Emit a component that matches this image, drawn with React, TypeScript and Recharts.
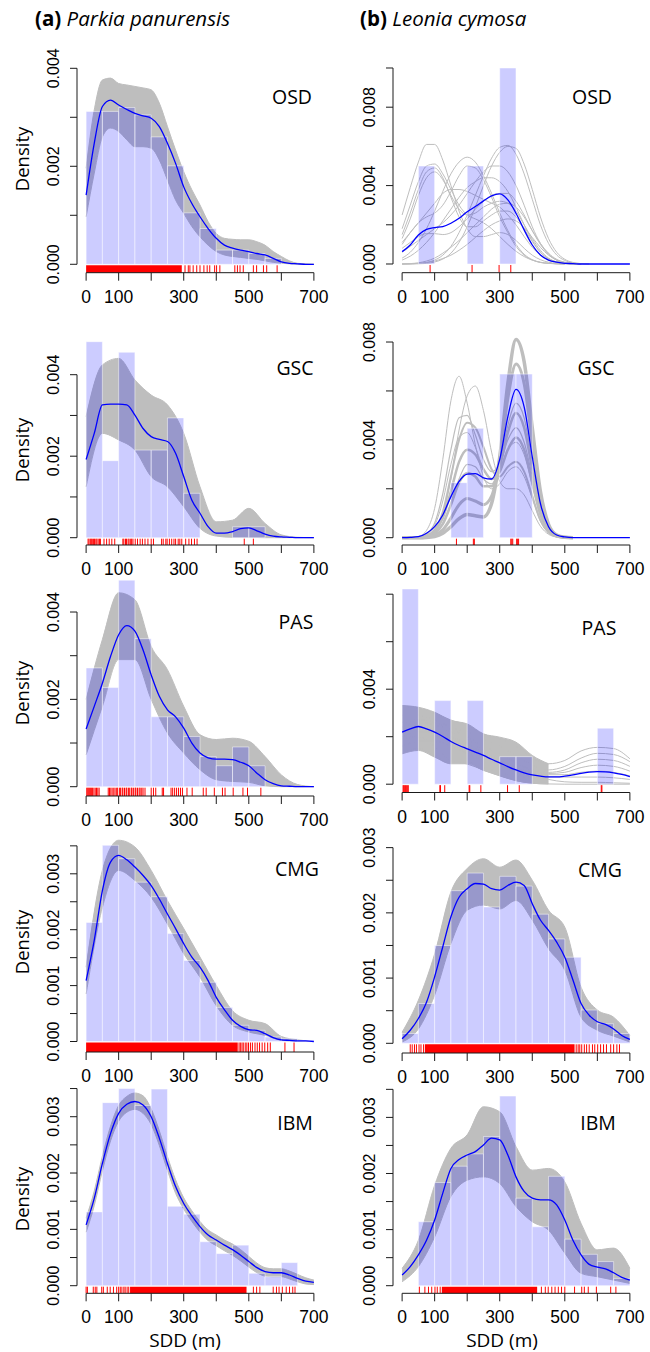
import React from 'react';
import { ComposedChart, Area, Line, Scatter, XAxis, YAxis, ReferenceArea, ReferenceLine } from 'recharts';

// Density values are stored in units of 1e-3 (tick labels divide by 1000).
const X25 = [0, 25, 50, 75, 100, 125, 150, 175, 200, 225, 250, 275, 300, 325, 350, 375, 400, 425, 450, 475, 500, 525, 550, 575, 600, 625, 650, 675, 700];
const X50 = [0, 50, 100, 150, 200, 250, 300, 350, 400, 450, 500, 550, 600, 650, 700];
const BIN_STARTS = [0, 50, 100, 150, 200, 250, 300, 350, 400, 450, 500, 550, 600, 650];
const X_TICKS = [0, 100, 200, 300, 400, 500, 600, 700];
const X_LABELS = [0, 100, 300, 500, 700];

// ---- (a) Parkia panurensis ----
const parkiaOsdHist = [3.12, 3.12, 3.2, 3.05, 2.6, 2.01, 1.05, 0.73, 0.29, 0.29, 0.22, 0.12];
const parkiaOsdMean = [1.41, 2.47, 3.22, 3.35, 3.25, 3.16, 3.08, 3.03, 2.98, 2.81, 2.47, 2.06, 1.58, 1.24, 0.97, 0.73, 0.53, 0.39, 0.33, 0.29, 0.26, 0.22, 0.19, 0.12, 0.05, 0.02, 0.01, 0, 0];
const parkiaOsdHigh = [1.96, 3.15, 3.76, 3.8, 3.69, 3.66, 3.63, 3.6, 3.56, 3.29, 2.81, 2.33, 1.89, 1.52, 1.21, 0.87, 0.63, 0.53, 0.51, 0.5, 0.5, 0.46, 0.39, 0.26, 0.16, 0.07, 0.02, 0.01, 0];
const parkiaOsdLow = [0.97, 1.86, 2.6, 2.78, 2.71, 2.54, 2.4, 2.4, 2.37, 2.13, 1.72, 1.31, 1.04, 0.77, 0.56, 0.39, 0.26, 0.19, 0.16, 0.14, 0.12, 0.1, 0.07, 0.04, 0.02, 0.01, 0, 0, 0];
const parkiaOsdRug = [304, 314, 319, 329, 340, 350, 362, 372, 380, 395, 401, 411, 457, 465, 473, 483, 514, 524, 545, 555, 587];
const parkiaOsdRugBands = [[0, 294]];

const parkiaGscHist = [4.81, 1.89, 4.55, 2.15, 2.15, 2.94, 1.09, 0, 0, 0.27, 0.27];
const parkiaGscMean = [1.92, 2.56, 3.26, 3.28, 3.28, 3.26, 3.01, 2.68, 2.48, 2.41, 2.36, 2.07, 1.5, 0.92, 0.6, 0.27, 0.11, 0.11, 0.15, 0.22, 0.24, 0.17, 0.09, 0.04, 0.02, 0.01, 0, 0, 0];
const parkiaGscHigh = [2.97, 4.24, 4.4, 3.87, 3.5, 3.26, 2.56, 1.25, 0.39, 0.43, 0.72, 0.35, 0.07, 0.01, 0];
const parkiaGscLow = [1.25, 2.56, 2.4, 2.15, 1.5, 1.25, 0.76, 0.23, 0.04, 0.01, 0.01, 0, 0, 0, 0];
const parkiaGscRug = [6, 9, 13, 16, 19, 23, 26, 30, 33, 37, 41, 44, 55, 63, 71, 79, 88, 113, 116, 121, 124, 129, 132, 137, 140, 144, 151, 158, 166, 173, 181, 190, 200, 207, 232, 237, 245, 249, 256, 263, 270, 275, 283, 288, 294, 306, 316, 324, 333, 341, 486, 514];

const parkiaPasHist = [2.72, 2.27, 4.73, 3.39, 1.6, 1.6, 1.15, 0.69, 0.48, 0.91, 0.48];
const parkiaPasMean = [1.32, 1.84, 2.37, 2.98, 3.48, 3.69, 3.56, 3.13, 2.56, 2.07, 1.76, 1.6, 1.34, 1.0, 0.77, 0.66, 0.63, 0.63, 0.62, 0.56, 0.48, 0.31, 0.16, 0.07, 0.02, 0.01, 0, 0, 0];
const parkiaPasHigh = [2.0, 3.37, 4.44, 4.28, 3.21, 2.68, 1.84, 1.19, 1.08, 1.11, 1.04, 0.69, 0.27, 0.05, 0];
const parkiaPasLow = [0.73, 1.84, 2.91, 2.91, 2.0, 1.23, 0.77, 0.39, 0.16, 0.12, 0.1, 0.02, 0, 0, 0];
const parkiaPasRug = [2, 5, 8, 11, 14, 17, 20, 24, 28, 32, 36, 40, 68, 72, 76, 80, 85, 89, 94, 97, 103, 106, 111, 113, 118, 123, 125, 130, 134, 139, 141, 146, 151, 153, 158, 163, 166, 171, 175, 181, 200, 207, 214, 234, 238, 261, 266, 272, 278, 284, 290, 296, 310, 326, 360, 369, 394, 419, 427, 452, 482, 496, 537];

const parkiaCmgHist = [2.13, 3.51, 3.27, 2.85, 2.59, 1.93, 1.45, 1.06, 0.61, 0.29, 0.2, 0.08, 0.05, 0.02];
const parkiaCmgMean = [1.09, 1.81, 2.7, 3.21, 3.33, 3.25, 3.12, 2.97, 2.79, 2.55, 2.28, 2.02, 1.75, 1.51, 1.33, 1.09, 0.79, 0.57, 0.38, 0.27, 0.21, 0.2, 0.14, 0.07, 0.03, 0.02, 0.01, 0.01, 0];
const parkiaCmgHigh = [1.33, 3.06, 3.6, 3.48, 3.06, 2.52, 2.02, 1.51, 1.0, 0.55, 0.38, 0.32, 0.09, 0.03, 0];
const parkiaCmgLow = [0.85, 2.4, 3.06, 2.88, 2.58, 2.1, 1.57, 1.15, 0.64, 0.29, 0.17, 0.11, 0.02, 0, 0];
const parkiaCmgRug = [470, 474, 479, 483, 489, 494, 499, 505, 511, 519, 526, 533, 541, 549, 558, 566, 611, 639];
const parkiaCmgRugBands = [[0, 466]];

const parkiaIbmHist = [1.31, 3.25, 3.5, 3.2, 3.49, 1.41, 1.27, 0.78, 0.57, 0.72, 0.22, 0.16, 0.41];
const parkiaIbmMean = [1.08, 1.55, 2.17, 2.7, 3.06, 3.22, 3.27, 3.21, 3.0, 2.62, 2.17, 1.76, 1.46, 1.24, 1.05, 0.9, 0.81, 0.72, 0.64, 0.54, 0.43, 0.32, 0.25, 0.23, 0.23, 0.19, 0.13, 0.08, 0.06];
const parkiaIbmHigh = [1.2, 1.68, 2.3, 2.83, 3.2, 3.36, 3.42, 3.37, 3.14, 2.75, 2.29, 1.88, 1.56, 1.33, 1.14, 0.99, 0.9, 0.81, 0.74, 0.64, 0.52, 0.4, 0.32, 0.3, 0.3, 0.26, 0.2, 0.14, 0.1];
const parkiaIbmLow = [0.95, 1.42, 2.04, 2.57, 2.92, 3.08, 3.13, 3.06, 2.86, 2.49, 2.05, 1.64, 1.36, 1.14, 0.95, 0.8, 0.71, 0.62, 0.54, 0.44, 0.33, 0.23, 0.17, 0.16, 0.16, 0.12, 0.07, 0.03, 0.02];
const parkiaIbmRug = [0, 4, 22, 28, 33, 48, 53, 65, 74, 84, 94, 100, 105, 110, 116, 120, 126, 131, 514, 524, 534, 575, 585, 593, 603, 615, 625, 635, 642];
const parkiaIbmRugBands = [[135, 493]];

// ---- (b) Leonia cymosa ----
const leoniaOsdHist = [0, 5.0, 0, 0, 5.0, 0, 10.0];
const leoniaOsdMean = [0.63, 0.97, 1.48, 1.77, 1.86, 1.91, 2.08, 2.33, 2.67, 2.93, 3.22, 3.48, 3.58, 3.27, 2.59, 1.74, 0.97, 0.46, 0.2, 0.09, 0.03, 0.02, 0, 0, 0, 0, 0, 0, 0];
const leoniaOsdBoot = [
  [2.5, 3.9, 5.2, 6.1, 6.1, 5.3, 4.0, 2.7, 1.8, 1.4, 1.4, 1.5, 1.6, 1.5, 1.2, 0.8, 0.45, 0.22, 0.09, 0.03, 0.01, 0],
  [1.8, 3.0, 4.2, 5.0, 5.1, 4.6, 3.8, 3.0, 2.5, 2.3, 2.1, 1.8, 1.4, 1.0, 0.65, 0.38, 0.2, 0.09, 0.04, 0.01, 0],
  [1.5, 2.6, 3.8, 4.7, 4.9, 4.4, 3.4, 2.4, 1.9, 1.9, 2.2, 2.5, 2.7, 2.7, 2.4, 1.8, 1.15, 0.6, 0.27, 0.1, 0.03, 0.01, 0],
  [1.3, 2.3, 3.5, 4.4, 4.7, 4.3, 3.5, 2.8, 2.5, 2.6, 2.9, 3.1, 3.2, 3.1, 2.7, 2.0, 1.3, 0.7, 0.3, 0.11, 0.04, 0.01, 0],
  [0.3, 0.6, 1.1, 1.8, 2.7, 3.7, 4.6, 5.2, 5.45, 5.2, 4.5, 3.6, 2.6, 1.7, 1.0, 0.5, 0.22, 0.08, 0.03, 0.01, 0],
  [1.0, 1.6, 2.1, 2.4, 2.6, 3.0, 3.7, 4.5, 5.0, 4.9, 4.3, 3.4, 2.4, 1.6, 0.9, 0.45, 0.2, 0.08, 0.03, 0.01, 0],
  [0, 0.01, 0.03, 0.08, 0.2, 0.45, 0.9, 1.6, 2.5, 3.5, 4.5, 5.4, 5.95, 6.05, 5.6, 4.6, 3.3, 2.0, 1.05, 0.46, 0.18, 0.06, 0.02, 0],
  [0, 0, 0.01, 0.03, 0.1, 0.25, 0.55, 1.1, 1.9, 2.9, 4.0, 5.0, 5.7, 6.0, 5.9, 5.1, 3.8, 2.4, 1.3, 0.6, 0.24, 0.08, 0.02, 0],
  [0.6, 0.9, 1.2, 1.5, 1.8, 2.1, 2.5, 3.0, 3.6, 4.2, 4.7, 5.0, 5.0, 4.7, 4.0, 3.0, 1.9, 1.05, 0.5, 0.2, 0.07, 0.02, 0],
  [0.2, 0.4, 0.7, 1.1, 1.6, 2.2, 2.8, 3.4, 3.9, 4.2, 4.4, 4.4, 4.2, 3.7, 2.9, 2.0, 1.2, 0.6, 0.26, 0.1, 0.03, 0.01, 0],
  [1.1, 1.6, 2.1, 2.6, 3.1, 3.6, 3.8, 3.8, 3.7, 3.5, 3.3, 3.1, 2.9, 2.5, 2.0, 1.4, 0.85, 0.45, 0.2, 0.08, 0.03, 0.01, 0],
  [0.8, 1.1, 1.4, 1.55, 1.55, 1.5, 1.6, 1.9, 2.3, 2.8, 3.2, 3.5, 3.6, 3.6, 3.2, 2.5, 1.7, 1.0, 0.5, 0.2, 0.07, 0.02, 0],
  [0, 0.02, 0.06, 0.15, 0.3, 0.55, 0.85, 1.2, 1.6, 2.0, 2.4, 2.8, 3.05, 3.1, 2.9, 2.4, 1.7, 1.05, 0.55, 0.24, 0.09, 0.03, 0],
  [0, 0.01, 0.03, 0.07, 0.15, 0.28, 0.45, 0.7, 1.0, 1.35, 1.7, 2.0, 2.2, 2.3, 2.2, 1.85, 1.35, 0.85, 0.45, 0.2, 0.08, 0.02, 0],
];
const leoniaOsdRug = [86, 215, 298, 334];

const leoniaGscHist = [0, 0, 0, 2.25, 4.47, 0, 6.69, 6.69];
const leoniaGscMean = [0, 0.01, 0.04, 0.18, 0.45, 0.93, 1.68, 2.3, 2.6, 2.62, 2.45, 2.4, 3.2, 4.95, 6.06, 5.35, 3.31, 1.4, 0.45, 0.11, 0.03, 0, 0, 0, 0, 0, 0, 0, 0];
const leoniaGscBoot = [
  [0, 0, 0, 0.01, 0.05, 0.18, 0.45, 0.78, 0.95, 0.9, 0.85, 1.4, 3.3, 6.3, 8.1, 7.2, 4.5, 1.9, 0.55, 0.11, 0.02, 0],
  [0, 0, 0, 0.02, 0.1, 0.32, 0.8, 1.35, 1.6, 1.5, 1.35, 1.7, 3.2, 5.7, 7.1, 6.3, 3.9, 1.65, 0.48, 0.1, 0.02, 0],
  [0, 0, 0.01, 0.04, 0.17, 0.55, 1.35, 2.25, 2.65, 2.5, 2.1, 2.1, 2.9, 4.3, 5.1, 4.5, 2.8, 1.2, 0.35, 0.07, 0.01, 0],
  [0, 0, 0.01, 0.06, 0.25, 0.8, 1.9, 3.1, 3.6, 3.4, 2.8, 2.4, 2.7, 3.6, 4.1, 3.6, 2.25, 0.95, 0.28, 0.06, 0.01, 0],
  [0, 0, 0.01, 0.08, 0.33, 1.05, 2.5, 4.0, 4.7, 4.5, 3.7, 2.8, 2.5, 2.9, 3.1, 2.7, 1.7, 0.72, 0.21, 0.04, 0.01, 0],
  [0, 0, 0.01, 0.05, 0.25, 0.9, 2.4, 4.4, 5.8, 6.2, 5.2, 3.5, 2.3, 2.0, 2.0, 1.75, 1.1, 0.47, 0.14, 0.03, 0, 0],
  [0, 0.01, 0.05, 0.3, 1.2, 3.2, 5.6, 6.6, 5.5, 3.8, 2.5, 2.0, 2.2, 2.7, 2.9, 2.5, 1.6, 0.67, 0.2, 0.04, 0.01, 0],
  [0, 0, 0.02, 0.15, 0.6, 1.8, 3.6, 4.9, 5.0, 4.2, 3.2, 2.7, 3.0, 4.0, 4.5, 3.9, 2.5, 1.05, 0.3, 0.07, 0.01, 0],
  [0, 0, 0.02, 0.12, 0.5, 1.5, 3.0, 4.1, 4.3, 3.7, 2.8, 2.4, 2.8, 3.6, 3.9, 3.4, 2.15, 0.9, 0.27, 0.06, 0.01, 0],
  [0, 0, 0.01, 0.05, 0.2, 0.6, 1.4, 2.4, 3.0, 2.9, 2.4, 2.2, 3.0, 4.6, 5.5, 4.9, 3.1, 1.3, 0.4, 0.09, 0.02, 0],
];
const leoniaGscBootWidth = [3.5, 3, 2.5, 2.5, 2, 1, 1, 1.2, 1, 1.2];
const leoniaGscRug = [167, 219, 222, 334, 337, 340, 352, 355, 358];

const leoniaPasHist = [8.22, 0, 3.52, 0, 3.52, 0, 1.16, 1.16, 0, 0, 0, 0, 2.36];
const leoniaPasMean = [2.19, 2.33, 2.43, 2.33, 2.19, 2.01, 1.8, 1.63, 1.49, 1.35, 1.21, 1.05, 0.9, 0.74, 0.6, 0.48, 0.39, 0.34, 0.31, 0.31, 0.34, 0.39, 0.46, 0.51, 0.53, 0.52, 0.48, 0.41, 0.32];
const leoniaPasHigh = [3.31, 3.24, 3.03, 2.68, 2.54, 2.12, 1.98, 1.77, 1.21, 0.86];
const leoniaPasLow = [1.28, 1.42, 1.14, 0.86, 0.86, 0.58, 0.36, 0.15, 0.04, 0.01];
const leoniaPasBoot = [
  [3.3, 3.2, 3.0, 2.7, 2.5, 2.1, 1.9, 1.6, 1.1, 0.86, 1.0, 1.4, 1.55, 1.5, 1.07],
  [2.9, 2.9, 2.7, 2.4, 2.2, 1.9, 1.6, 1.2, 0.8, 0.6, 0.75, 1.1, 1.3, 1.25, 0.95],
  [2.6, 2.7, 2.6, 2.3, 2.0, 1.6, 1.3, 0.9, 0.6, 0.5, 0.6, 0.9, 1.05, 1.0, 0.75],
  [2.0, 2.2, 2.2, 2.0, 1.7, 1.3, 1.0, 0.7, 0.5, 0.45, 0.5, 0.7, 0.8, 0.75, 0.55],
  [1.6, 1.8, 1.8, 1.6, 1.3, 1.0, 0.8, 0.55, 0.45, 0.4, 0.4, 0.5, 0.55, 0.5, 0.35],
  [1.3, 1.5, 1.2, 0.9, 0.9, 0.7, 0.5, 0.35, 0.3, 0.3, 0.3, 0.3, 0.3, 0.27, 0.2],
  [2.4, 2.6, 2.5, 2.2, 1.9, 1.4, 1.0, 0.6, 0.35, 0.2, 0.1, 0.08, 0.08, 0.06, 0.04],
  [1.9, 2.0, 1.6, 1.0, 0.85, 0.6, 0.35, 0.15, 0.04, 0.01, 0, 0, 0, 0, 0],
];
const leoniaPasRug = [3, 5, 8, 10, 13, 16, 19, 116, 118, 131, 206, 208, 242, 324, 360, 612, 614];

const leoniaCmgHist = [0.15, 0.61, 1.5, 2.34, 2.61, 2.09, 2.56, 2.41, 1.98, 1.6, 1.32, 0.51, 0.3, 0.15];
const leoniaCmgMean = [0.07, 0.2, 0.38, 0.63, 1.02, 1.48, 1.94, 2.24, 2.37, 2.45, 2.44, 2.37, 2.35, 2.42, 2.47, 2.42, 2.14, 1.89, 1.73, 1.55, 1.32, 0.97, 0.61, 0.43, 0.33, 0.29, 0.22, 0.12, 0.06];
const leoniaCmgHigh = [0.17, 0.66, 1.37, 2.32, 2.68, 2.83, 2.7, 2.81, 2.5, 2.04, 1.78, 0.86, 0.51, 0.4, 0.12];
const leoniaCmgLow = [0.02, 0.22, 0.74, 1.53, 2.04, 2.12, 2.06, 2.19, 1.89, 1.45, 1.12, 0.4, 0.2, 0.11, 0.02];
const leoniaCmgRug = [25, 31, 38, 44, 52, 58, 66, 535, 541, 546, 552, 560, 567, 575, 585, 592, 601, 610, 619, 628, 641, 650, 660, 668];
const leoniaCmgRugBands = [[70, 530]];

const leoniaIbmHist = [0, 1.14, 1.84, 2.13, 2.35, 2.66, 3.38, 1.56, 1.05, 1.95, 0.83, 0.56, 0.43, 0.13];
const leoniaIbmMean = [0.19, 0.34, 0.55, 0.81, 1.17, 1.65, 2.09, 2.25, 2.33, 2.39, 2.51, 2.63, 2.6, 2.33, 1.94, 1.68, 1.56, 1.53, 1.53, 1.44, 1.17, 0.81, 0.55, 0.38, 0.33, 0.3, 0.23, 0.15, 0.1];
const leoniaIbmHigh = [0.31, 0.81, 1.79, 2.45, 2.69, 3.19, 3.1, 2.48, 2.06, 2.09, 1.85, 1.11, 0.64, 0.67, 0.31];
const leoniaIbmLow = [0.07, 0.34, 0.87, 1.59, 1.88, 1.94, 1.82, 1.41, 1.14, 0.99, 0.58, 0.22, 0.16, 0.1, 0.04];
const leoniaIbmRug = [53, 70, 81, 91, 101, 108, 117, 428, 440, 449, 460, 470, 480, 490, 500, 530, 552, 560, 572, 597, 641, 657];
const leoniaIbmRugBands = [[122, 415]];

const GRAY = '#bebebe';
const BLUE = '#0000ff';
const RED = '#ff0000';
const AXIS = '#1a1a1a';
const PLOT_W = 246;
const CHART_W = 345;
const TICK_FONT = '"Liberation Sans", Arial, sans-serif';
const LABEL_FONT = '"Open Sans", "Noto Sans", sans-serif';

type Panel = {
  col: 0 | 1;
  plotTop: number;
  y0: number;
  axisY: number;
  k: number; // pixels per 1e-3 density
  yTicks: number[];
  yLabels: number[];
  hist: number[];
  mean: number[];
  band?: { xs: number[]; low: number[]; high: number[] };
  boot?: { xs: number[]; curves: number[][]; widths?: number[] };
  rug: number[];
  rugBands?: number[][];
};

const PANELS: Panel[] = [
  { col: 0, plotTop: 45, y0: 264.3, axisY: 272.7, k: 49, yTicks: [0, 1, 2, 3, 4], yLabels: [0, 2, 4],
    hist: parkiaOsdHist, mean: parkiaOsdMean, band: { xs: X25, low: parkiaOsdLow, high: parkiaOsdHigh },
    rug: parkiaOsdRug, rugBands: parkiaOsdRugBands },
  { col: 1, plotTop: 45, y0: 264.0, axisY: 272.7, k: 19.6, yTicks: [0, 2, 4, 6, 8, 10], yLabels: [0, 4, 8],
    hist: leoniaOsdHist, mean: leoniaOsdMean, boot: { xs: X25, curves: leoniaOsdBoot }, rug: leoniaOsdRug },
  { col: 0, plotTop: 330, y0: 537.7, axisY: 545, k: 40.75, yTicks: [0, 1, 2, 3, 4], yLabels: [0, 2, 4],
    hist: parkiaGscHist, mean: parkiaGscMean, band: { xs: X50, low: parkiaGscLow, high: parkiaGscHigh }, rug: parkiaGscRug },
  { col: 1, plotTop: 330, y0: 537.7, axisY: 545, k: 24.46, yTicks: [0, 2, 4, 6, 8], yLabels: [0, 4, 8],
    hist: leoniaGscHist, mean: leoniaGscMean, boot: { xs: X25, curves: leoniaGscBoot, widths: leoniaGscBootWidth }, rug: leoniaGscRug },
  { col: 0, plotTop: 575, y0: 786.7, axisY: 796, k: 43.67, yTicks: [0, 1, 2, 3, 4], yLabels: [0, 2, 4],
    hist: parkiaPasHist, mean: parkiaPasMean, band: { xs: X50, low: parkiaPasLow, high: parkiaPasHigh }, rug: parkiaPasRug },
  { col: 1, plotTop: 575, y0: 784.2, axisY: 792.5, k: 23.75, yTicks: [0, 2, 4, 6, 8], yLabels: [0, 4],
    hist: leoniaPasHist, mean: leoniaPasMean, band: { xs: X50, low: leoniaPasLow, high: leoniaPasHigh },
    boot: { xs: X50, curves: leoniaPasBoot }, rug: leoniaPasRug },
  { col: 0, plotTop: 835, y0: 1041.5, axisY: 1052, k: 55.9, yTicks: [0, 0.5, 1, 1.5, 2, 2.5, 3, 3.5], yLabels: [0, 1, 2, 3],
    hist: parkiaCmgHist, mean: parkiaCmgMean, band: { xs: X50, low: parkiaCmgLow, high: parkiaCmgHigh },
    rug: parkiaCmgRug, rugBands: parkiaCmgRugBands },
  { col: 1, plotTop: 835, y0: 1043.3, axisY: 1053, k: 65.22, yTicks: [0, 0.5, 1, 1.5, 2, 2.5, 3], yLabels: [0, 1, 2, 3],
    hist: leoniaCmgHist, mean: leoniaCmgMean, band: { xs: X50, low: leoniaCmgLow, high: leoniaCmgHigh },
    rug: leoniaCmgRug, rugBands: leoniaCmgRugBands },
  { col: 0, plotTop: 1080, y0: 1285.7, axisY: 1293.3, k: 56.33, yTicks: [0, 0.5, 1, 1.5, 2, 2.5, 3, 3.5], yLabels: [0, 1, 2, 3],
    hist: parkiaIbmHist, mean: parkiaIbmMean, band: { xs: X25, low: parkiaIbmLow, high: parkiaIbmHigh },
    rug: parkiaIbmRug, rugBands: parkiaIbmRugBands },
  { col: 1, plotTop: 1080, y0: 1285.7, axisY: 1293.3, k: 56.1, yTicks: [0, 0.5, 1, 1.5, 2, 2.5, 3, 3.5], yLabels: [0, 1, 2, 3],
    hist: leoniaIbmHist, mean: leoniaIbmMean, band: { xs: X50, low: leoniaIbmLow, high: leoniaIbmHigh },
    rug: leoniaIbmRug, rugBands: leoniaIbmRugBands },
];

const PANEL_NAMES = [
  { text: 'OSD', x: 292, y: 104 }, { text: 'OSD', x: 592, y: 104 },
  { text: 'GSC', x: 295, y: 375 }, { text: 'GSC', x: 596, y: 375 },
  { text: 'PAS', x: 296, y: 629 }, { text: 'PAS', x: 599, y: 635 },
  { text: 'CMG', x: 297, y: 876 }, { text: 'CMG', x: 600, y: 877 },
  { text: 'IBM', x: 295, y: 1130 }, { text: 'IBM', x: 598, y: 1130 },
];
const DENSITY_Y = [159, 450, 693, 942, 1199];

const toPoints = (xs: number[], ys: number[]) => ys.map((y, i) => ({ x: xs[i], y }));
const toRange = (xs: number[], lo: number[], hi: number[]) => lo.map((l, i) => ({ x: xs[i], range: [l, hi[i]] }));

const XTick = (props: any) => {
  const { x, y, payload } = props;
  if (!X_LABELS.includes(payload.value)) return <g />;
  return (
    <text x={x} y={y + 20} textAnchor="middle" fontSize={17.5} fontFamily={TICK_FONT} fill="#000">
      {payload.value}
    </text>
  );
};

const makeYTick = (labels: number[]) => (props: any) => {
  const { x, y, payload } = props;
  if (!labels.includes(payload.value)) return <g />;
  const bx = x - 9;
  return (
    <text x={bx} y={y} transform={`rotate(-90 ${bx} ${y})`} textAnchor="middle" fontSize={16} fontFamily={TICK_FONT} fill="#000">
      {(payload.value / 1000).toFixed(3)}
    </text>
  );
};

const DensityPanel = ({ p }: { p: Panel }) => {
  const colLeft = p.col === 0 ? 0 : 325;
  const axisX = p.col === 0 ? 77 : 393;
  const chartTop = p.plotTop - 10;
  const xAxisH = 45;
  const height = p.axisY - chartTop + xAxisH;
  const yLo = -(p.axisY - p.y0) / p.k;
  const yHi = (p.y0 - p.plotTop) / p.k;
  const rugLen = p.axisY - p.y0;
  const topTick = p.yTicks[p.yTicks.length - 1];

  return (
    <div style={{ position: 'absolute', left: colLeft, top: chartTop }}>
      <ComposedChart
        width={CHART_W}
        height={height}
        margin={{ top: 10, right: CHART_W - (axisX - colLeft) - PLOT_W, bottom: 0, left: 0 }}
      >
        <XAxis
          type="number"
          dataKey="x"
          domain={[-28, 728]}
          ticks={X_TICKS}
          interval={0}
          allowDataOverflow
          height={xAxisH}
          axisLine={false}
          tickSize={8}
          tickLine={{ stroke: AXIS }}
          tick={XTick}
        />
        <YAxis
          type="number"
          dataKey="y"
          domain={[yLo, yHi]}
          ticks={p.yTicks}
          interval={0}
          allowDataOverflow
          width={axisX - colLeft}
          axisLine={false}
          tickSize={7}
          tickLine={{ stroke: AXIS }}
          tick={makeYTick(p.yLabels)}
        />

        {p.band && (
          <Area
            data={toRange(p.band.xs, p.band.low, p.band.high)}
            dataKey="range"
            type="monotone"
            fill={GRAY}
            fillOpacity={1}
            stroke={GRAY}
            strokeWidth={1}
            dot={false}
            activeDot={false}
            isAnimationActive={false}
            zIndex={100}
          />
        )}
        {p.boot &&
          p.boot.curves.map((c, i) => (
            <Line
              key={`boot-${i}`}
              data={toPoints(p.boot!.xs, c)}
              dataKey="y"
              type="monotone"
              stroke={GRAY}
              strokeWidth={p.boot!.widths ? p.boot!.widths[i] : 1}
              dot={false}
              activeDot={false}
              isAnimationActive={false}
              zIndex={150}
            />
          ))}

        {p.hist.map((h, i) =>
          h > 0 ? (
            <ReferenceArea
              key={`bin-${i}`}
              x1={BIN_STARTS[i]}
              x2={BIN_STARTS[i] + 50}
              y1={0}
              y2={h}
              fill={BLUE}
              fillOpacity={0.2}
              stroke="#ffffff"
              strokeOpacity={0.7}
              strokeWidth={0.7}
              ifOverflow="visible"
              zIndex={200}
            />
          ) : null
        )}

        <Line
          data={toPoints(X25, p.mean)}
          dataKey="y"
          type="monotone"
          stroke={BLUE}
          strokeWidth={1.3}
          dot={false}
          activeDot={false}
          isAnimationActive={false}
          zIndex={400}
        />

        {(p.rugBands || []).map((b, i) => (
          <ReferenceArea
            key={`rugband-${i}`}
            x1={b[0]}
            x2={b[1]}
            y1={yLo}
            y2={-1 / p.k}
            fill={RED}
            fillOpacity={1}
            stroke="none"
            ifOverflow="visible"
            zIndex={500}
          />
        ))}
        <Scatter
          data={p.rug.map((x) => ({ x, y: 0 }))}
          dataKey="y"
          isAnimationActive={false}
          zIndex={500}
          shape={(s: any) => (
            <line x1={s.cx} x2={s.cx} y1={s.cy + 1} y2={s.cy + rugLen} stroke={RED} strokeWidth={1} />
          )}
        />

        <ReferenceLine
          segment={[{ x: 0, y: yLo }, { x: 700, y: yLo }]}
          stroke={AXIS}
          strokeWidth={1}
          ifOverflow="visible"
          zIndex={600}
        />
        <ReferenceLine
          segment={[{ x: -28, y: 0 }, { x: -28, y: topTick }]}
          stroke={AXIS}
          strokeWidth={1}
          ifOverflow="visible"
          zIndex={600}
        />
      </ComposedChart>
    </div>
  );
};

export default function App() {
  return (
    <div
      style={{
        position: 'absolute',
        left: 0,
        top: 0,
        width: 650,
        height: 1352,
        background: '#ffffff',
        overflow: 'hidden',
      }}
    >
      {PANELS.map((p, i) => (
        <DensityPanel key={i} p={p} />
      ))}
      <svg
        width={650}
        height={1352}
        style={{ position: 'absolute', left: 0, top: 0, pointerEvents: 'none' }}
      >
        <text x={35} y={26} fontSize={20.5} fontFamily={LABEL_FONT} fill="#000">
          <tspan fontWeight="bold">(a)</tspan>
          <tspan fontStyle="italic"> Parkia panurensis</tspan>
        </text>
        <text x={360} y={26} fontSize={20.5} fontFamily={LABEL_FONT} fill="#000">
          <tspan fontWeight="bold">(b)</tspan>
          <tspan fontStyle="italic"> Leonia cymosa</tspan>
        </text>
        {PANEL_NAMES.map((n, i) => (
          <text key={i} x={n.x} y={n.y} textAnchor="middle" fontSize={19.5} fontFamily={LABEL_FONT} fill="#000">
            {n.text}
          </text>
        ))}
        {DENSITY_Y.map((y, i) => (
          <text
            key={i}
            x={29}
            y={y}
            transform={`rotate(-90 29 ${y})`}
            textAnchor="middle"
            fontSize={18.5}
            fontFamily={LABEL_FONT}
            fill="#000"
          >
            Density
          </text>
        ))}
        <text x={185} y={1347} textAnchor="middle" fontSize={19} fontFamily={LABEL_FONT} fill="#000">
          SDD (m)
        </text>
        <text x={502} y={1347} textAnchor="middle" fontSize={19} fontFamily={LABEL_FONT} fill="#000">
          SDD (m)
        </text>
      </svg>
    </div>
  );
}
